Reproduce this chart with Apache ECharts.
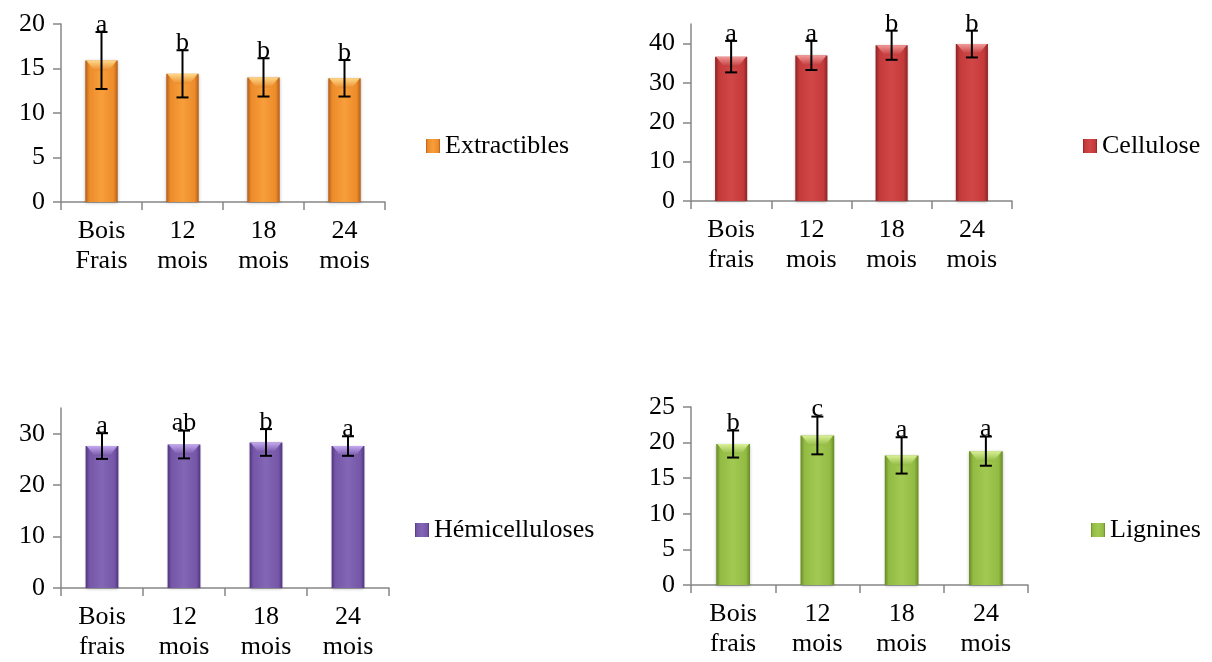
<!DOCTYPE html>
<html>
<head>
<meta charset="utf-8">
<script src="https://cdn.jsdelivr.net/npm/echarts@6/dist/echarts.min.js"></script>
<style>
html,body{margin:0;padding:0;background:#fff;}
#chart{width:1212px;height:662px;}
</style>
</head>
<body>
<div id="chart"></div>
<script>
// ---------- data ----------
const catsExtr = ['Bois\nFrais', '12\nmois', '18\nmois', '24\nmois'];
const cats = ['Bois\nfrais', '12\nmois', '18\nmois', '24\nmois'];

const extractibles = [15.9, 14.4, 14.0, 13.9];
const extractiblesErr = [3.2, 2.65, 2.15, 2.05];
const extractiblesLetters = ['a', 'b', 'b', 'b'];

const cellulose = [36.7, 37.0, 39.6, 39.9];
const celluloseErr = [4.0, 3.7, 3.7, 3.4];
const celluloseLetters = ['a', 'a', 'b', 'b'];

const hemicelluloses = [27.6, 27.9, 28.3, 27.6];
const hemicellulosesErr = [2.5, 2.7, 2.6, 1.9];
const hemicellulosesLetters = ['a', 'ab', 'b', 'a'];

const lignines = [19.8, 21.0, 18.2, 18.8];
const ligninesErr = [1.9, 2.65, 2.55, 2.05];
const ligninesLetters = ['b', 'c', 'a', 'a'];

const yTicksExtr = [0, 5, 10, 15, 20];
const yTicksCell = [0, 10, 20, 30, 40];
const yTicksHemi = [0, 10, 20, 30];
const yTicksLign = [0, 5, 10, 15, 20, 25];

// ---------- styling ----------
const FONT = 'Liberation Serif';
const FS = 26;
const AXIS_COLOR = '#878787';

function hGrad(edge, main, light) {
  return new echarts.graphic.LinearGradient(0, 0, 1, 0, [
    {offset: 0, color: edge},
    {offset: 0.12, color: main},
    {offset: 0.5, color: light},
    {offset: 0.88, color: main},
    {offset: 1, color: edge}
  ]);
}

const panels = [
  {name: 'Extractibles', cats: catsExtr, vals: extractibles, errs: extractiblesErr, letters: extractiblesLetters,
   ticks: yTicksExtr, max: 20, interval: 5,
   grid: {left: 61, top: 24, width: 324, height: 178},
   legend: {left: 426, top: 133},
   colors: ['#B25C18', '#EC8B2A', '#F79E3A', '#FFD98A']},
  {name: 'Cellulose', cats: cats, vals: cellulose, errs: celluloseErr, letters: celluloseLetters,
   ticks: yTicksCell, max: 45, interval: 5,
   grid: {left: 691, top: 24, width: 321, height: 177},
   legend: {left: 1083, top: 133},
   colors: ['#8A2323', '#C43A3A', '#D14747', '#F29A9A']},
  {name: 'Hémicelluloses', cats: cats, vals: hemicelluloses, errs: hemicellulosesErr, letters: hemicellulosesLetters,
   ticks: yTicksHemi, max: 35, interval: 5,
   grid: {left: 61, top: 408, width: 328, height: 180},
   legend: {left: 415, top: 517},
   colors: ['#4F3680', '#7556A7', '#8366B5', '#C3A8F0']},
  {name: 'Lignines', cats: cats, vals: lignines, errs: ligninesErr, letters: ligninesLetters,
   ticks: yTicksLign, max: 25, interval: 5,
   grid: {left: 691, top: 407, width: 337, height: 178},
   legend: {left: 1091, top: 517},
   colors: ['#688826', '#92BB43', '#A2CA52', '#DAF198']}
];

const grid = [], xAxis = [], yAxis = [], series = [], legend = [];

panels.forEach((p, k) => {
  grid.push(Object.assign({containLabel: false}, p.grid));
  xAxis.push({
    type: 'category', gridIndex: k, data: p.cats, boundaryGap: true,
    axisLine: {lineStyle: {color: AXIS_COLOR, width: 1.5}},
    axisTick: {show: true, length: 8, lineStyle: {color: AXIS_COLOR, width: 1.5}},
    axisLabel: {fontFamily: FONT, fontSize: FS, color: '#000', lineHeight: 30, margin: 14, interval: 0},
    splitLine: {show: false}
  });
  yAxis.push({
    type: 'value', gridIndex: k, min: 0, max: p.max, interval: p.interval,
    axisLine: {show: true, lineStyle: {color: AXIS_COLOR, width: 1.5}},
    axisTick: {show: true, length: 8, lineStyle: {color: AXIS_COLOR, width: 1.5}, customValues: p.ticks},
    axisLabel: {fontFamily: FONT, fontSize: FS, color: '#000', margin: 16, customValues: p.ticks},
    splitLine: {show: false}
  });
  const [edge, main, light, top] = p.colors;
  series.push({
    name: p.name, type: 'bar', xAxisIndex: k, yAxisIndex: k,
    data: p.vals, barWidth: '40%',
    itemStyle: {color: hGrad(edge, main, light), shadowColor: 'rgba(0,0,0,0.25)', shadowBlur: 3, shadowOffsetY: 1},
    emphasis: {disabled: true}
  });
  series.push({
    name: p.name + '_err', type: 'custom', xAxisIndex: k, yAxisIndex: k, z: 10,
    data: p.vals.map((v, i) => [i, v, p.errs[i]]),
    renderItem: function (params, api) {
      const i = api.value(0), v = api.value(1), e = api.value(2);
      const bandW = api.size([1, 0])[0];
      const bw = bandW * 0.4;
      const pTop = api.coord([i, v]);
      const pHi = api.coord([i, v + e]);
      const pLo = api.coord([i, v - e]);
      const x = pTop[0];
      const x0 = x - bw / 2, x1 = x + bw / 2;
      const cap = 6;
      return {
        type: 'group',
        children: [
          {type: 'polygon', shape: {points: [[x0 + 1, pTop[1]], [x1 - 1, pTop[1]], [x1 - 9, pTop[1] + 10], [x0 + 9, pTop[1] + 10]]},
           style: {fill: new echarts.graphic.LinearGradient(0, 0, 0, 1, [{offset: 0, color: top}, {offset: 1, color: main}])}},
          {type: 'line', shape: {x1: x, y1: pHi[1], x2: x, y2: pLo[1]}, style: {stroke: '#000', lineWidth: 2}},
          {type: 'line', shape: {x1: x - cap, y1: pHi[1], x2: x + cap, y2: pHi[1]}, style: {stroke: '#000', lineWidth: 2}},
          {type: 'line', shape: {x1: x - cap, y1: pLo[1], x2: x + cap, y2: pLo[1]}, style: {stroke: '#000', lineWidth: 2}},
          {type: 'text', style: {text: p.letters[params.dataIndex], x: x, y: pHi[1] + 6, align: 'center', verticalAlign: 'bottom',
            font: FS + 'px "' + FONT + '"', fill: '#000'}}
        ]
      };
    }
  });
  legend.push({
    data: [p.name], left: p.legend.left, top: p.legend.top, padding: 0,
    icon: 'rect', itemWidth: 14, itemHeight: 14, selectedMode: false,
    textStyle: {fontFamily: FONT, fontSize: FS, color: '#000', padding: [0, 0, 0, 0]}
  });
});

const chart = echarts.init(document.getElementById('chart'), null, {renderer: 'canvas'});
chart.setOption({
  animation: false,
  backgroundColor: '#fff',
  grid, xAxis, yAxis, series, legend,
  tooltip: {show: false}
});
</script>
</body>
</html>
